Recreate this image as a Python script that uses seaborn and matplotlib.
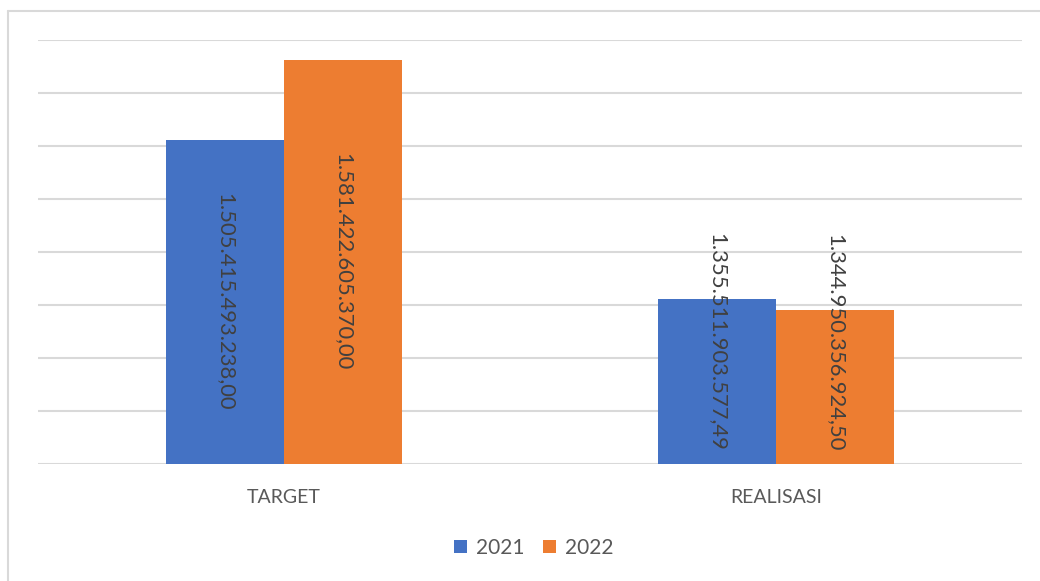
import matplotlib
matplotlib.use("Agg")
import matplotlib.pyplot as plt
from matplotlib.patches import Patch
from matplotlib.lines import Line2D
import seaborn as sns
import pandas as pd

# Data: anggaran target vs realisasi (Rupiah)
kategori = ["TARGET", "REALISASI"]
tahun = ["2021", "2022"]
nilai_2021 = [1505415493238.00, 1355511903577.49]
nilai_2022 = [1581422605370.00, 1344950356924.50]
y_ticks = [1.20e12, 1.25e12, 1.30e12, 1.35e12, 1.40e12, 1.45e12, 1.50e12, 1.55e12, 1.60e12]

warna = {"2021": "#4472C4", "2022": "#ED7D31"}

df = pd.DataFrame({
    "kategori": kategori * 2,
    "tahun": [tahun[0]] * len(kategori) + [tahun[1]] * len(kategori),
    "nilai": nilai_2021 + nilai_2022,
})

sns.set_theme(style="white")
plt.rcParams["font.family"] = ["Lato", "DejaVu Sans"]

fig = plt.figure(figsize=(10.4, 5.81), dpi=100)
ax = fig.add_axes([38 / 1040, 117 / 581, 984 / 1040, 424 / 581])

sns.barplot(data=df, x="kategori", y="nilai", hue="tahun", order=kategori,
            hue_order=tahun, palette=warna, width=0.48, saturation=1,
            linewidth=0, legend=False, ax=ax, errorbar=None)

ax.set_ylim(y_ticks[0], y_ticks[-1])
ax.set_xlim(-0.5, len(kategori) - 0.5)
ax.set_yticks(y_ticks)
ax.set_yticklabels([])
ax.yaxis.grid(True, color="#D9D9D9", linewidth=1.5)
ax.xaxis.grid(False)
ax.set_axisbelow(True)
for s in ax.spines.values():
    s.set_visible(False)
ax.tick_params(axis="both", length=0)
ax.tick_params(axis="x", labelsize=14, labelcolor="#595959", pad=18)
ax.set_xlabel("")
ax.set_ylabel("")


def format_id(v):
    s = f"{v:,.2f}"
    return s.replace(",", "_").replace(".", ",").replace("_", ".")


# Data labels, rotated; centred in the bar, or kept above the base when too long
fig.canvas.draw()
renderer = fig.canvas.get_renderer()
ymin = y_ticks[0]
label_size = 15.8
for bar in ax.patches:
    h = bar.get_height()
    if h <= 0:
        continue
    x = bar.get_x() + bar.get_width() / 2
    mid = (h + ymin) / 2
    t = ax.text(x, mid, format_id(h), rotation=-90, ha="center", va="center",
                fontsize=label_size, color="#404040", rotation_mode="anchor")
    tb = t.get_window_extent(renderer)
    y0 = ax.transData.transform((0, ymin))[1]
    y1 = ax.transData.transform((0, h))[1]
    if tb.height > (y1 - y0) - 20:
        t.remove()
        base = ax.transData.inverted().transform((0, y0 + 13))[1]
        ax.text(x, base, format_id(h), rotation=-90, ha="center", va="bottom",
                fontsize=label_size, color="#404040")

handles = [Patch(facecolor=warna[t], edgecolor="none") for t in tahun]
fig.legend(handles, tahun, loc="center", bbox_to_anchor=(534 / 1040, 1 - 548 / 581),
           ncol=2, frameon=False, fontsize=15, labelcolor="#595959",
           handlelength=0.6, handleheight=0.6, handletextpad=0.45, columnspacing=0.9)

# Chart area border (left and top edges)
fig.add_artist(Line2D([8 / 1040, 8 / 1040], [0, 1 - 11 / 581], color="#D9D9D9",
                      linewidth=1.5, transform=fig.transFigure))
fig.add_artist(Line2D([8 / 1040, 1], [1 - 11 / 581, 1 - 11 / 581], color="#D9D9D9",
                      linewidth=1.5, transform=fig.transFigure))

fig.savefig("out.png", dpi=100, facecolor="white")
